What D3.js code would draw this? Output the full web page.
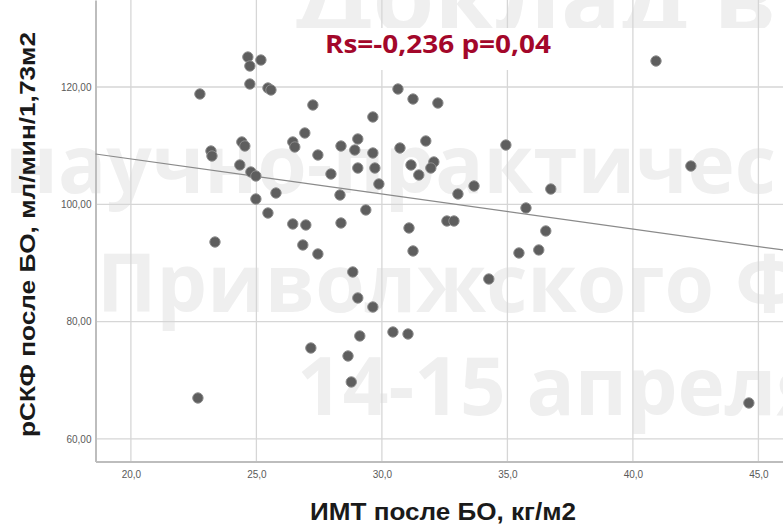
<!DOCTYPE html>
<html>
<head>
<meta charset="utf-8">
<script src="https://cdn.jsdelivr.net/npm/d3@7"></script>
<style>
  html, body { margin: 0; padding: 0; background: #ffffff; }
  svg { display: block; }
</style>
</head>
<body>
<svg id="chart" width="783" height="528"></svg>
<script>
// ---- Data ----
const bmi = [24.66, 25.18, 24.74, 24.74, 25.46, 25.58, 22.75, 30.64, 31.24, 32.23,
  27.25, 29.64, 26.93, 26.45, 26.53, 24.42, 24.54, 23.19, 23.23, 27.45,
  28.37, 29.04, 28.92, 29.64, 30.72, 31.75, 34.94, 42.31, 24.34, 24.78,
  24.98, 27.97, 29.04, 29.72, 29.88, 31.16, 32.07, 31.95, 31.47, 33.67,
  33.03, 36.73, 25.78, 24.98, 28.33, 25.46, 29.36, 35.74, 26.45, 26.97,
  28.37, 32.59, 32.87, 31.08, 36.53, 23.35, 26.85, 27.45, 31.24, 35.46,
  36.25, 28.84, 34.26, 29.04, 29.64, 29.12, 27.17, 28.65, 30.44, 31.04,
  28.78, 22.67, 44.62, 40.92];
const egfr = [125.11, 124.60, 123.58, 120.51, 119.83, 119.49, 118.81, 119.66, 117.95, 117.27,
  116.93, 114.89, 112.16, 110.63, 109.77, 110.63, 109.94, 109.09, 108.24, 108.41,
  109.94, 111.14, 109.26, 108.75, 109.60, 110.80, 110.11, 106.53, 106.71, 105.51,
  104.83, 105.17, 106.19, 106.19, 103.47, 106.71, 107.22, 106.19, 105.00, 103.13,
  101.76, 102.61, 101.93, 100.91, 101.59, 98.52, 99.04, 99.38, 96.65, 96.48,
  96.82, 97.16, 97.16, 95.97, 95.46, 93.58, 93.07, 91.54, 92.05, 91.71,
  92.22, 88.47, 87.27, 84.04, 82.50, 77.56, 75.51, 74.15, 78.24, 77.90,
  69.72, 66.99, 66.14, 124.43];
const fitX = [18.59, 45.98];
const fitY = [108.58, 92.22];
const xTicks = [20, 25, 30, 35, 40, 45];
const yTicks = [60, 80, 100, 120];
const xDomain = [18.59, 45.98];
const yDomain = [56.16, 134.83];
const xTitle = "ИМТ после БО, кг/м2";
const yTitle = "рСКФ после БО, мл/мин/1,73м2";
const statText = "Rs=-0,236 p=0,04";
const watermark = ["Доклад в", "научно-практичес", "Приволжского Ф", "14-15 апреля"];

// ---- Layout ----
const W = 783, H = 528;
const plot = { left: 95.5, right: 783, top: 0, bottom: 461.5 };
const svg = d3.select("#chart");

const x = d3.scaleLinear().domain(xDomain).range([plot.left, plot.right]);
const y = d3.scaleLinear().domain(yDomain).range([plot.bottom, plot.top]);

const ru = d3.formatLocale({ decimal: ",", thousands: " ", grouping: [3], currency: ["", ""] });
const fx = ru.format(".1f"), fy = ru.format(".2f");

// Watermark (light, behind everything)
svg.append("defs").append("clipPath").attr("id", "topclip")
  .append("rect").attr("x", 0).attr("y", 0).attr("width", W).attr("height", 28);
const wmPos = [[296, 32, 100], [5, 193, 80], [97, 312, 80], [297, 415, 80]];
svg.append("g").selectAll("text").data(watermark).join("text")
  .attr("x", (d, i) => wmPos[i][0]).attr("y", (d, i) => wmPos[i][1])
  .attr("clip-path", (d, i) => i === 0 ? "url(#topclip)" : null)
  .attr("font-family", "'Open Sans', sans-serif").attr("font-weight", 700)
  .attr("font-size", (d, i) => wmPos[i][2]).attr("fill", "#efefef")
  .text(d => d);

// Gridlines
const grid = svg.append("g");
grid.selectAll("line.v").data(xTicks).join("line").attr("class", "v")
  .attr("x1", d => x(d)).attr("x2", d => x(d))
  .attr("y1", plot.top).attr("y2", plot.bottom)
  .attr("stroke", "#d6d6d6").attr("stroke-width", 1.3);
grid.selectAll("line.h").data(yTicks).join("line").attr("class", "h")
  .attr("x1", plot.left).attr("x2", plot.right)
  .attr("y1", d => y(d)).attr("y2", d => y(d))
  .attr("stroke", "#d6d6d6").attr("stroke-width", 1.3);

// White box behind statistic text
svg.append("rect").attr("x", 300).attr("y", 28).attr("width", 272).attr("height", 42)
  .attr("fill", "#ffffff");

// Axes
const xAxis = svg.append("g").attr("transform", `translate(0,${plot.bottom})`)
  .call(d3.axisBottom(x).tickValues(xTicks).tickSize(0).tickPadding(9).tickFormat(fx));
const yAxis = svg.append("g").attr("transform", `translate(${plot.left},0)`)
  .call(d3.axisLeft(y).tickValues(yTicks).tickSize(0).tickPadding(4).tickFormat(fy));
[xAxis, yAxis].forEach(g => {
  g.select(".domain").attr("stroke", "#bdbdbd").attr("stroke-width", 2);
  g.selectAll("text").attr("font-family", "'Liberation Sans', Arial, sans-serif")
    .attr("font-size", 10).attr("fill", "#5a5a5a");
});

// Fit line
svg.append("line")
  .attr("x1", x(fitX[0])).attr("y1", y(fitY[0]))
  .attr("x2", x(fitX[1])).attr("y2", y(fitY[1]))
  .attr("stroke", "#8a8a8a").attr("stroke-width", 1.2);

// Points
svg.append("g").selectAll("circle").data(bmi.map((b, i) => [b, egfr[i]])).join("circle")
  .attr("cx", d => x(d[0])).attr("cy", d => y(d[1])).attr("r", 5.2)
  .attr("fill", "#5e5e5e").attr("stroke", "#8e8e8e").attr("stroke-width", 1);

// Statistic text
svg.append("text").attr("x", 325).attr("y", 53)
  .attr("font-family", "'Open Sans', sans-serif").attr("font-weight", 700)
  .attr("font-size", 25).attr("fill", "#a3072a")
  .attr("textLength", 226).attr("lengthAdjust", "spacingAndGlyphs")
  .text(statText);

// Axis titles
svg.append("text").attr("x", 443).attr("y", 520).attr("text-anchor", "middle")
  .attr("font-family", "'Liberation Sans', Arial, sans-serif").attr("font-weight", 700)
  .attr("font-size", 24).attr("fill", "#1a1a1a")
  .attr("textLength", 266).attr("lengthAdjust", "spacingAndGlyphs")
  .text(xTitle);
svg.append("text").attr("transform", "translate(35,234.5) rotate(-90)").attr("text-anchor", "middle")
  .attr("font-family", "'Liberation Sans', Arial, sans-serif").attr("font-weight", 700)
  .attr("font-size", 22).attr("fill", "#1a1a1a")
  .attr("textLength", 405).attr("lengthAdjust", "spacingAndGlyphs")
  .text(yTitle);
</script>
</body>
</html>
